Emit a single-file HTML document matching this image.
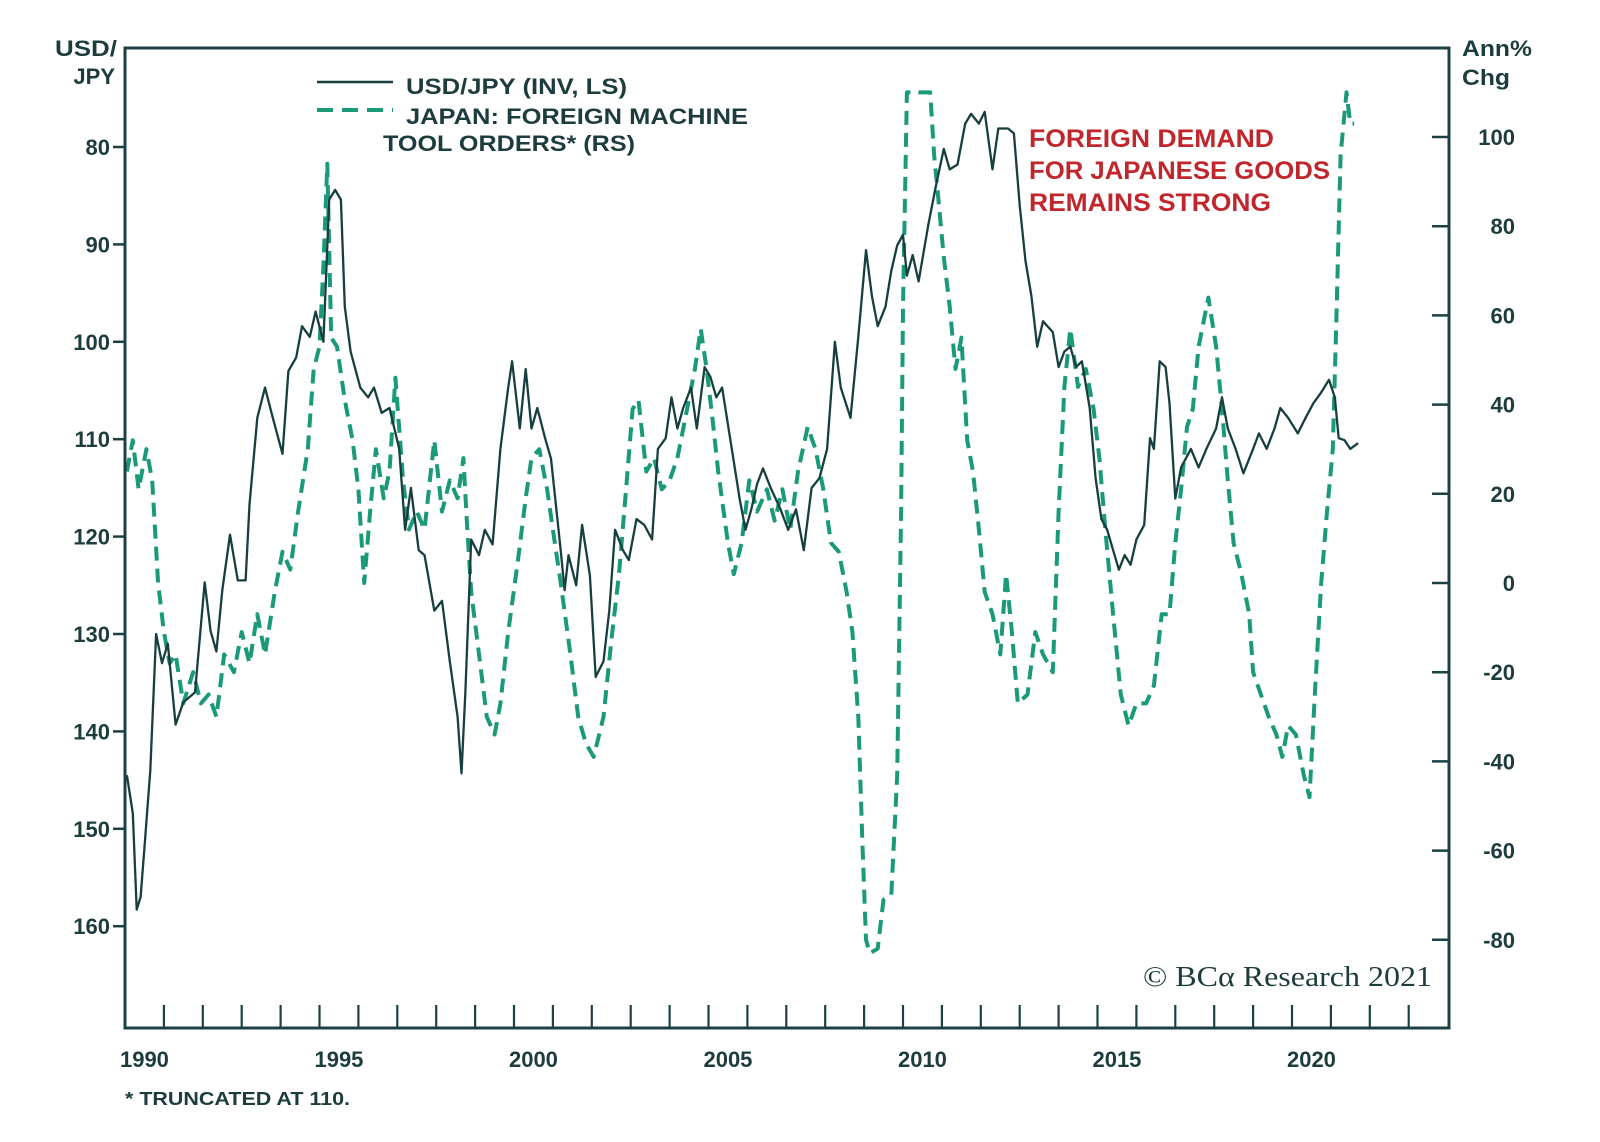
<!DOCTYPE html>
<html><head><meta charset="utf-8"><style>
html,body{margin:0;padding:0;background:#fff;}
svg{display:block;font-family:"Liberation Sans",Arial,sans-serif;}
</style></head><body>
<svg id="chart" width="1600" height="1142" viewBox="0 0 1600 1142" xmlns="http://www.w3.org/2000/svg">
<rect x="0" y="0" width="1600" height="1142" fill="#fff"/>
<g id="series"></g>
<g id="axes"></g>
<text x="55" y="56" textLength="62" lengthAdjust="spacingAndGlyphs" font-size="22" font-weight="bold" fill="#1d3c3e">USD/</text>
<text x="115" y="84" text-anchor="end" font-size="22" font-weight="bold" fill="#1d3c3e">JPY</text>
<text x="1462" y="56" textLength="70" lengthAdjust="spacingAndGlyphs" font-size="22" font-weight="bold" fill="#1d3c3e">Ann%</text>
<text x="1462" y="85" textLength="48" lengthAdjust="spacingAndGlyphs" font-size="22" font-weight="bold" fill="#1d3c3e">Chg</text>
<g>
<line x1="317" y1="82" x2="393" y2="82" stroke="#173f3f" stroke-width="2.4"/>
<text x="406" y="94" textLength="221" lengthAdjust="spacingAndGlyphs" font-size="22" font-weight="bold" fill="#1d3c3e">USD/JPY (INV, LS)</text>
<line x1="317" y1="110" x2="393" y2="110" stroke="#1a9a78" stroke-width="4" stroke-dasharray="16 9"/>
<text x="406" y="124" textLength="342" lengthAdjust="spacingAndGlyphs" font-size="22" font-weight="bold" fill="#1d3c3e">JAPAN: FOREIGN MACHINE</text>
<text x="383" y="151" textLength="252" lengthAdjust="spacingAndGlyphs" font-size="22" font-weight="bold" fill="#1d3c3e">TOOL ORDERS* (RS)</text>
</g>
<g font-size="25" font-weight="bold" fill="#c0272d">
<text x="1029" y="147" textLength="245" lengthAdjust="spacingAndGlyphs">FOREIGN DEMAND</text>
<text x="1029" y="179" textLength="301" lengthAdjust="spacingAndGlyphs">FOR JAPANESE GOODS</text>
<text x="1029" y="211" textLength="242" lengthAdjust="spacingAndGlyphs">REMAINS STRONG</text>
</g>
<text x="1143" y="986" textLength="289" lengthAdjust="spacingAndGlyphs" font-family="'Liberation Serif',serif" font-size="29" fill="#1d3c3e">© BCα Research 2021</text>
<text x="125" y="1105" textLength="225" lengthAdjust="spacingAndGlyphs" font-size="18" font-weight="bold" fill="#1d3c3e">* TRUNCATED AT 110.</text>
</svg>
<script>
const usdYears=[1990.05,1990.2,1990.3,1990.4,1990.5,1990.65,1990.8,1990.95,1991.1,1991.3,1991.5,1991.8,1992.05,1992.2,1992.35,1992.5,1992.7,1992.9,1993.1,1993.2,1993.4,1993.6,1993.8,1994.05,1994.2,1994.4,1994.55,1994.75,1994.9,1995.1,1995.25,1995.4,1995.55,1995.65,1995.8,1996.05,1996.25,1996.4,1996.6,1996.8,1997.05,1997.2,1997.35,1997.55,1997.7,1997.95,1998.15,1998.35,1998.55,1998.65,1998.75,1998.9,1999.1,1999.25,1999.45,1999.65,1999.85,1999.95,2000.15,2000.3,2000.45,2000.6,2000.8,2000.95,2001.2,2001.3,2001.4,2001.6,2001.75,2001.95,2002.1,2002.3,2002.45,2002.6,2002.8,2002.95,2003.15,2003.35,2003.55,2003.7,2003.9,2004.05,2004.2,2004.35,2004.55,2004.7,2004.9,2005.05,2005.2,2005.35,2005.6,2005.8,2005.95,2006.1,2006.25,2006.4,2006.6,2006.85,2007.05,2007.25,2007.45,2007.65,2007.85,2008.05,2008.25,2008.4,2008.65,2008.85,2009.05,2009.2,2009.35,2009.55,2009.7,2009.85,2010.0,2010.1,2010.25,2010.4,2010.65,2010.85,2011.05,2011.2,2011.4,2011.6,2011.75,2011.95,2012.1,2012.3,2012.45,2012.7,2012.85,2013.0,2013.15,2013.3,2013.45,2013.6,2013.85,2014.0,2014.15,2014.3,2014.45,2014.6,2014.8,2014.95,2015.1,2015.25,2015.4,2015.55,2015.7,2015.85,2016.0,2016.2,2016.35,2016.45,2016.6,2016.75,2016.85,2017.0,2017.15,2017.4,2017.6,2017.8,2018.05,2018.2,2018.35,2018.55,2018.75,2019.0,2019.15,2019.35,2019.55,2019.7,2019.9,2020.15,2020.35,2020.55,2020.75,2020.95,2021.1,2021.2,2021.35,2021.5,2021.7];
const usdValues=[144.5,148.4,158.3,157,152,144,130,133,131,139.3,137,136,124.7,129.7,131.8,125.5,119.8,124.5,124.5,116.7,107.8,104.7,107.8,111.5,103,101.6,98.4,99.5,96.9,100,85.4,84.4,85.4,96.4,101,104.7,105.7,104.7,107.3,106.8,111,119.3,115,121.4,121.9,127.6,126.6,132.8,138.5,144.3,135.9,120.3,121.9,119.3,120.8,111,104.7,102,108.9,102.8,108.9,106.8,109.9,112,121.4,125.5,121.9,125,118.8,124,134.4,132.8,127.6,119.3,121.4,122.4,118.2,118.8,120.3,111,109.9,105.7,108.9,106.8,104.7,108.9,102.6,103.6,105.7,104.7,111,116.1,119.3,117.2,114.6,113,115,117.2,119.3,117.2,121.4,115,114,111,100,104.7,107.8,99.5,90.6,95.3,98.4,96.4,92.7,90.1,89,93.2,91.1,93.8,88,83.9,80.2,82.3,81.8,77.6,76.6,77.6,76.4,82.3,78.1,78.1,78.6,86,91.7,95.3,100.5,97.9,99,102.6,101,100.5,102.6,102,106.8,114,118.2,119.3,121.4,123.4,121.9,122.9,120.3,118.8,109.9,111,102,102.6,106.3,116.1,112.9,111,112.9,111,108.9,105.7,108.9,111,113.5,111,109.4,111,108.9,106.8,107.8,109.4,107.8,106.3,105.2,103.9,105.7,109.9,110.1,111,110.4];
const ordYears=[1990.05,1990.2,1990.35,1990.55,1990.7,1990.85,1991.0,1991.15,1991.3,1991.5,1991.75,1991.95,1992.15,1992.35,1992.55,1992.8,1993.0,1993.2,1993.4,1993.6,1993.85,1994.05,1994.25,1994.45,1994.7,1994.85,1995.0,1995.1,1995.2,1995.3,1995.45,1995.65,1995.85,1996.0,1996.15,1996.3,1996.45,1996.65,1996.8,1996.95,1997.15,1997.3,1997.5,1997.7,1997.95,1998.15,1998.35,1998.55,1998.7,1998.8,1998.9,1999.1,1999.3,1999.5,1999.65,1999.85,2000.1,2000.3,2000.45,2000.65,2000.85,2001.05,2001.2,2001.45,2001.65,2001.85,2002.05,2002.3,2002.5,2002.7,2002.9,2003.05,2003.2,2003.4,2003.6,2003.8,2004.0,2004.2,2004.45,2004.65,2004.8,2004.95,2005.1,2005.25,2005.5,2005.65,2005.85,2006.05,2006.25,2006.5,2006.7,2006.9,2007.1,2007.3,2007.55,2007.75,2007.95,2008.15,2008.35,2008.55,2008.7,2008.85,2008.95,2009.05,2009.15,2009.35,2009.5,2009.7,2009.85,2009.95,2010.0,2010.1,2010.4,2010.7,2010.8,2010.9,2011.05,2011.2,2011.35,2011.5,2011.65,2011.8,2011.95,2012.1,2012.3,2012.5,2012.65,2012.8,2012.95,2013.2,2013.4,2013.6,2013.85,2014.0,2014.15,2014.3,2014.5,2014.7,2014.9,2015.05,2015.2,2015.4,2015.6,2015.8,2016.0,2016.25,2016.45,2016.65,2016.85,2017.0,2017.15,2017.3,2017.45,2017.6,2017.85,2018.05,2018.2,2018.35,2018.5,2018.7,2018.9,2019.0,2019.2,2019.4,2019.6,2019.75,2019.9,2020.1,2020.3,2020.45,2020.6,2020.75,2020.9,2021.05,2021.15,2021.25,2021.4,2021.5,2021.6];
const ordValues=[25,32,21,30,23,0,-11,-18,-16,-27,-20,-27,-25,-30,-16,-20,-11,-18,-7,-16,-2,7,3,16,30,48,53,71,94,55,53,41,32,21,0,16,30,19,25,46,23,12,16,12,32,16,23,19,28,12,-2,-16,-30,-34,-27,-11,5,19,28,30,21,9,0,-16,-30,-36,-39,-30,-13,2,23,39,41,25,28,21,23,28,39,48,57,48,37,25,9,2,9,23,16,21,14,21,12,25,35,30,21,9,7,-2,-11,-30,-57,-80,-83,-82,-71,-70,-43,16,62,110,110,110,96,87,73,62,48,55,32,25,12,-2,-7,-16,2,-11,-27,-25,-11,-16,-20,16,44,57,44,48,39,28,12,-7,-25,-32,-27,-27,-23,-7,-7,9,21,35,39,53,64,53,39,23,9,2,-7,-20,-25,-30,-34,-39,-32,-34,-43,-48,-23,0,16,30,62,96,110,103,103];
const leftTicks=[80,90,100,110,120,130,140,150,160];
const rightTicks=[100,80,60,40,20,0,-20,-40,-60,-80];
const yearLabels=[1990,1995,2000,2005,2010,2015,2020];

const NS='http://www.w3.org/2000/svg';
const X0=125,X1=1449,Y0=48,Y1=1028;
function xs(t){return X0+(t-1990)*38.9;}
function yl(v){return 147+(v-80)*9.74;}
function yr(v){return 583-Math.min(v,110)*4.46;}
function mk(tag,attrs,parent){const e=document.createElementNS(NS,tag);for(const k in attrs)e.setAttribute(k,attrs[k]);parent.appendChild(e);return e;}
const series=document.getElementById('series'),axes=document.getElementById('axes');

let d=ordYears.map((t,i)=>(i?'L':'M')+xs(t).toFixed(1)+' '+yr(ordValues[i]).toFixed(1)).join(' ');
const p2=mk('path',{d:d,fill:'none',stroke:'#1a9a78','stroke-width':4,'stroke-dasharray':'14 8','stroke-linejoin':'round'},series);


d=usdYears.map((t,i)=>(i?'L':'M')+xs(t).toFixed(1)+' '+yl(usdValues[i]).toFixed(1)).join(' ');
const p1=mk('path',{d:d,fill:'none',stroke:'#173f3f','stroke-width':2.3,'stroke-linejoin':'round'},series);



const frame=mk('path',{d:`M${X0} ${Y1} L${X0} ${Y0} L${X1} ${Y0} L${X1} ${Y1} Z`,fill:'none',stroke:'#1d4143','stroke-width':3},axes);



leftTicks.forEach(v=>{const y=yl(v);
 const l=mk('line',{x1:113,x2:X0,y1:y,y2:y,stroke:'#1d4143','stroke-width':2.5},axes);
 
 
 const t=mk('text',{x:110,y:y+8,'text-anchor':'end','font-size':22,'font-weight':'bold',fill:'#1d3c3e'},axes);t.textContent=v;
 
 
});
rightTicks.forEach(v=>{const y=yr(v);
 const l=mk('line',{x1:1432,x2:X1,y1:y,y2:y,stroke:'#1d4143','stroke-width':2.5},axes);
 
 
 const t=mk('text',{x:1515,y:y+8,'text-anchor':'end','font-size':22,'font-weight':'bold',fill:'#1d3c3e'},axes);t.textContent=v;
 
 
});
for(let yv=1991;yv<=2023;yv++){const x=xs(yv);
 const l=mk('line',{x1:x,x2:x,y1:1005,y2:Y1,stroke:'#1d4143','stroke-width':2.2},axes);
 
 
}
yearLabels.forEach(yv=>{
 const t=mk('text',{x:xs(yv+0.5),y:1067,'text-anchor':'middle','font-size':22,'font-weight':'bold',fill:'#1d3c3e'},axes);t.textContent=yv;
 
 
});
</script>
</body></html>
